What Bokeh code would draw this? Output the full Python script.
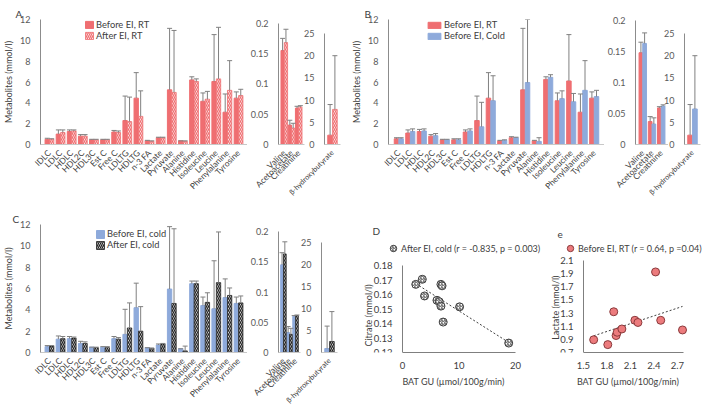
import math
import numpy as np
from bokeh.plotting import figure
from bokeh.models import (ColumnDataSource, FactorRange, Range1d, FixedTicker,
                          CustomJSTickFormatter, Legend, LegendItem, Label)
from bokeh.transform import dodge
from bokeh.layouts import row, column
from bokeh.embed import file_html
from bokeh.resources import INLINE

# ---------------- data ----------------
main_cats = ["IDLC", "LDLC", "HDLC", "HDL2C", "HDL3C", "Est C", "Free C", "LDLTG",
             "HDLTG", "n-3 FA", "Lactate", "Pyruvate", "Alanine", "Histidine",
             "Isoleucine", "Leucine", "Phenylalanine", "Tyrosine"]
small_cats = ["Valine", "Acetoacetate", "Creatinine"]
bhb_cats = ["β-hydroxybutyrate"]

main_ticks = [0, 2, 4, 6, 8, 10, 12]
small_ticks = [0, 0.05, 0.1, 0.15, 0.2]
bhb_ticks = [0, 5, 10, 15, 20, 25]

# Panel A: before EI RT vs after EI RT  (mean, mean+SD)
a_before_rt = [0.5, 1.0, 1.25, 0.8, 0.45, 0.45, 1.2, 2.3, 4.45, 0.35, 0.65, 5.25, 0.35, 6.2, 4.15, 6.05, 3.1, 4.45]
a_before_rt_err = [0.6, 1.4, 1.4, 0.95, 0.5, 0.5, 1.35, 4.65, 6.9, 0.4, 0.7, 11.15, 0.35, 6.5, 4.95, 10.55, 4.85, 5.05]
a_after_rt = [0.5, 1.15, 1.3, 0.8, 0.45, 0.45, 1.15, 2.2, 2.7, 0.3, 0.65, 5.0, 0.3, 6.05, 4.35, 6.3, 5.2, 4.7]
a_after_rt_err = [0.55, 1.4, 1.4, 0.95, 0.5, 0.5, 1.3, 4.55, 5.15, 0.35, 0.7, 10.95, 0.35, 6.3, 5.1, 11.25, 8.05, 5.3]
a_small_before = [0.155, 0.032, 0.06]
a_small_before_err = [0.175, 0.04, 0.063]
a_small_after = [0.168, 0.027, 0.062]
a_small_after_err = [0.19, 0.035, 0.064]
a_bhb_before = [2.1]
a_bhb_before_err = [9.0]
a_bhb_after = [7.9]
a_bhb_after_err = [20.0]

# Panel B: before EI RT vs before EI cold
b_before_rt = [0.55, 1.1, 1.25, 0.8, 0.45, 0.45, 1.2, 2.3, 4.45, 0.35, 0.65, 5.25, 0.35, 6.25, 4.2, 6.1, 3.1, 4.45]
b_before_rt_err = [0.65, 1.4, 1.45, 0.95, 0.5, 0.55, 1.4, 4.65, 6.9, 0.4, 0.75, 11.15, 0.4, 6.5, 4.95, 10.55, 4.85, 5.05]
b_before_cold = [0.55, 1.25, 1.3, 0.85, 0.45, 0.45, 1.3, 1.7, 4.2, 0.4, 0.65, 5.95, 0.3, 6.45, 4.4, 4.1, 5.2, 4.6]
b_before_cold_err = [0.65, 1.5, 1.5, 1.05, 0.5, 0.55, 1.5, 4.05, 6.6, 0.45, 0.7, 12.0, 0.65, 6.7, 5.15, 4.9, 8.05, 5.2]
b_small_rt = [0.148, 0.037, 0.059]
b_small_rt_err = [0.165, 0.045, 0.061]
b_small_cold = [0.163, 0.033, 0.062]
b_small_cold_err = [0.18, 0.043, 0.064]
b_bhb_rt = [2.1]
b_bhb_rt_err = [9.0]
b_bhb_cold = [8.0]
b_bhb_cold_err = [20.0]

# Panel C: before EI cold vs after EI cold
c_before_cold = [0.55, 1.25, 1.3, 0.85, 0.5, 0.5, 1.3, 1.7, 4.2, 0.45, 0.7, 5.95, 0.35, 6.45, 4.4, 4.1, 5.15, 4.6]
c_before_cold_err = [0.65, 1.55, 1.5, 1.05, 0.5, 0.55, 1.5, 4.05, 6.5, 0.45, 0.8, 11.8, 0.35, 6.7, 5.2, 8.6, 6.9, 5.2]
c_after_cold = [0.6, 1.3, 1.35, 0.85, 0.45, 0.45, 1.25, 2.3, 2.0, 0.4, 0.8, 4.6, 0.15, 6.45, 4.7, 6.55, 5.35, 4.65]
c_after_cold_err = [0.65, 1.5, 1.45, 1.0, 0.5, 0.55, 1.4, 4.65, 4.3, 0.4, 0.85, 11.6, 0.6, 6.7, 5.6, 11.3, 6.05, 5.3]
c_small_before = [0.145, 0.033, 0.06]
c_small_before_err = [0.165, 0.043, 0.061]
c_small_after = [0.163, 0.03, 0.061]
c_small_after_err = [0.183, 0.04, 0.062]
c_bhb_before = [0.9]
c_bhb_before_err = [6.0]
c_bhb_after = [2.5]
c_bhb_after_err = [9.3]

# Panel D: BAT GU vs citrate, after EI cold
d_bat_gu = [2.35, 3.5, 3.9, 6.1, 6.5, 6.8, 7.0, 6.8, 7.2, 10.1, 18.8]
d_citrate = [0.167, 0.1705, 0.159, 0.156, 0.155, 0.167, 0.166, 0.152, 0.141, 0.1515, 0.1265]
d_ticks_x = [0, 10, 20]
d_ticks_y = [0.12, 0.13, 0.14, 0.15, 0.16, 0.17, 0.18]

# Panel e: BAT GU vs lactate, before EI RT
e_bat_gu = [1.63, 1.81, 1.886, 1.916, 1.93, 1.99, 2.156, 2.195, 2.42, 2.486, 2.764]
e_lactate = [0.894, 0.82, 1.32, 0.958, 1.008, 1.058, 1.19, 1.157, 1.926, 1.19, 1.043]
e_ticks_x = [1.5, 1.8, 2.1, 2.4, 2.7]
e_ticks_y = [0.7, 0.9, 1.1, 1.3, 1.5, 1.7, 1.9, 2.1]

# ---------------- style ----------------
FONT = "Lato"
TXT = "#404040"
TICK = "#595959"
ERR = "#808080"
RED = "#ef6e71"
BLUE = "#8eaadb"

sty_red = dict(fill_color=RED, line_color=RED)
sty_blue = dict(fill_color=BLUE, line_color=BLUE)
sty_red_hatch = dict(fill_color="white", line_color=RED, line_width=0.8, hatch_pattern="\\",
                     hatch_color=RED, hatch_scale=4, hatch_weight=1.3)
sty_black_hatch = dict(fill_color="white", line_color="#222222", line_width=0.8, hatch_pattern="\\",
                       hatch_color="#222222", hatch_scale=4, hatch_weight=1.3)

num_fmt = CustomJSTickFormatter(code="return String(Math.round(tick*1000)/1000);")

ROW1 = dict(bt=19, fh=125, bb=61)   # frame 19..144
ROW2 = dict(bt=19, fh=128, bb=60)   # frame 224..352 (row starts at 205)


def base_fig(x_range, y_range, fw, bl, br, rowg, margin=None, title=None, title_off=0):
    kw = dict(x_range=x_range, y_range=y_range, width=bl + fw + br,
              height=rowg["bt"] + rowg["fh"] + rowg["bb"],
              min_border_left=bl, min_border_top=rowg["bt"], min_border_bottom=rowg["bb"],
              min_border_right=br, output_backend="svg", toolbar_location=None, tools="")
    if margin is not None:
        kw["margin"] = margin
    kw["title"] = title
    p = figure(**kw)
    if title is not None:
        p.title.align = "left"
        p.title.offset = title_off
        p.title.standoff = 0
        p.title.text_font = FONT
        p.title.text_font_size = "10px"
        p.title.text_font_style = "normal"
        p.title.text_color = TXT
    p.background_fill_color = None
    p.border_fill_color = None
    p.outline_line_color = None
    p.grid.visible = False
    return p


def style_axes(p, tick_color, tick_size, label_size, axis_color):
    for ax in p.axis:
        ax.major_tick_line_color = None
        ax.minor_tick_line_color = None
        ax.major_label_text_font = FONT
        ax.major_label_text_font_size = tick_size
        ax.major_label_text_color = tick_color
        ax.axis_label_text_font = FONT
        ax.axis_label_text_font_size = label_size
        ax.axis_label_text_font_style = "normal"
        ax.axis_label_text_color = TXT
        ax.axis_line_color = axis_color


def bar_panel(cats, a, ae, b, be, ymax, ytop, ticks, sty_a, sty_b, fw, bl, br, rowg, pad, off, w,
              ylabel=None, fmt=None, margin=None, title=None, title_off=0, cat_font="8.4px"):
    src = ColumnDataSource(dict(cat=cats, a=a, ae=ae, b=b, be=be))
    p = base_fig(FactorRange(factors=cats, range_padding=pad), Range1d(0, ytop),
                 fw, bl, br, rowg, margin, title, title_off)
    xa = dodge("cat", -off, range=p.x_range)
    xb = dodge("cat", off, range=p.x_range)
    ra = p.vbar(x=xa, top="a", width=w, source=src, **sty_a)
    rb = p.vbar(x=xb, top="b", width=w, source=src, **sty_b)
    for xx, v, e in ((xa, "a", "ae"), (xb, "b", "be")):
        p.segment(x0=xx, y0=v, x1=xx, y1=e, source=src, line_color=ERR, line_width=1)
        p.scatter(x=xx, y=e, marker="dash", size=5, source=src, line_color=ERR, line_width=1)
    style_axes(p, TICK, "9px", "9px", "#8c8c8c")
    p.yaxis.ticker = FixedTicker(ticks=ticks)
    p.yaxis.bounds = (0, ymax)
    if fmt is not None:
        p.yaxis.formatter = fmt
    p.xaxis.major_label_orientation = math.pi / 4
    p.xaxis.axis_line_color = "#c8c8c8"
    p.xaxis.major_label_standoff = 1
    p.xaxis.major_label_text_color = TXT
    p.xaxis.major_label_text_font_size = cat_font
    p.yaxis.major_label_standoff = 4
    if ylabel:
        p.yaxis.axis_label = ylabel
        p.yaxis.axis_label_standoff = 3
    return p, ra, rb


def bar_legend(p, items, loc, gw, gh):
    lg = Legend(items=items, location=loc, orientation="vertical", padding=0, margin=0,
                spacing=0, glyph_width=gw, glyph_height=gh, label_height=11,
                label_standoff=2, label_text_font=FONT, label_text_font_size="9.3px",
                label_text_color=TXT, background_fill_alpha=0, border_line_color=None,
                label_text_baseline="middle")
    p.add_layout(lg)


BHB_FONT = "7.3px"

# ---------------- row 1: A and B ----------------
pA1, rA1, rA2 = bar_panel(main_cats, a_before_rt, a_before_rt_err, a_after_rt, a_after_rt_err,
                          12, 12, main_ticks, sty_red, sty_red_hatch, 214, 33, 0, ROW1,
                          0.034, 0.2, 0.39, ylabel="Metabolites (mmol/l)", title="A", title_off=-25)
bar_legend(pA1, [LegendItem(label="Before EI, RT", renderers=[rA1]),
                 LegendItem(label="After EI, RT", renderers=[rA2])], (44, 103), 10, 9)

pA2, _, _ = bar_panel(small_cats, a_small_before, a_small_before_err, a_small_after,
                      a_small_after_err, 0.2, 0.2061, small_ticks, sty_red, sty_red_hatch,
                      29, 28, 3, ROW1, 0.2, 0.23, 0.45, fmt=num_fmt)
pA3, _, _ = bar_panel(bhb_cats, a_bhb_before, a_bhb_before_err, a_bhb_after, a_bhb_after_err,
                      25, 28.15, bhb_ticks, sty_red, sty_red_hatch, 16, 54, 3, ROW1,
                      0.0, 0.15, 0.29, margin=(0, 0, 0, -37), cat_font=BHB_FONT)

pB1, rB1, rB2 = bar_panel(main_cats, b_before_rt, b_before_rt_err, b_before_cold, b_before_cold_err,
                          12, 12, main_ticks, sty_red, sty_blue, 216, 45, 0, ROW1,
                          0.044, 0.2, 0.39, ylabel="Metabolites (mmol/l)", title="B", title_off=-24)
bar_legend(pB1, [LegendItem(label="Before EI, RT", renderers=[rB1]),
                 LegendItem(label="Before EI, Cold", renderers=[rB2])], (38, 103), 16, 8)

pB2, _, _ = bar_panel(small_cats, b_small_rt, b_small_rt_err, b_small_cold, b_small_cold_err,
                      0.2, 0.2016, small_ticks, sty_red, sty_blue, 37, 27, 0, ROW1,
                      0.19, 0.2, 0.4, fmt=num_fmt)
pB3, _, _ = bar_panel(bhb_cats, b_bhb_rt, b_bhb_rt_err, b_bhb_cold, b_bhb_cold_err,
                      25, 28.15, bhb_ticks, sty_red, sty_blue, 16, 52, 5, ROW1,
                      0.0, 0.15, 0.29, margin=(0, 0, 0, -36), cat_font=BHB_FONT)

# ---------------- row 2: C, D, e ----------------
pC1, rC1, rC2 = bar_panel(main_cats, c_before_cold, c_before_cold_err, c_after_cold, c_after_cold_err,
                          12, 12, main_ticks, sty_blue, sty_black_hatch, 214, 33, 0, ROW2,
                          0.034, 0.2, 0.39, ylabel="Metabolites (mmol/l)", title="C", title_off=-28)
bar_legend(pC1, [LegendItem(label="Before EI, cold", renderers=[rC1]),
                 LegendItem(label="After EI, cold", renderers=[rC2])], (55, 102), 10, 10)

pC2, _, _ = bar_panel(small_cats, c_small_before, c_small_before_err, c_small_after,
                      c_small_after_err, 0.2, 0.2116, small_ticks, sty_blue, sty_black_hatch,
                      27, 26, 4, ROW2, 0.21, 0.23, 0.45, fmt=num_fmt)
pC3, _, _ = bar_panel(bhb_cats, c_bhb_before, c_bhb_before_err, c_bhb_after, c_bhb_after_err,
                      25, 29.09, bhb_ticks, sty_blue, sty_black_hatch, 16, 53, 3, ROW2,
                      0.0, 0.15, 0.29, margin=(0, 0, 0, -36), cat_font=BHB_FONT)


def scatter_panel(xv, yv, xr, yr, xb, yb, yaxis_at, xt, yt, fw, bl, br, margin, sty, xlabel, ylabel,
                  ylabel_pos, legend_text, leg_loc, letter, letter_pos):
    src = ColumnDataSource(dict(x=xv, y=yv))
    p = base_fig(Range1d(*xr), Range1d(*yr), fw, bl, br, ROW2, margin=margin)
    slope, icpt = np.polyfit(xv, yv, 1)
    xs = [min(xv), max(xv)]
    p.line(xs, [slope * x + icpt for x in xs], line_color="#404040", line_dash="2 2", line_width=1)
    r = p.scatter(x="x", y="y", source=src, marker="circle", size=8, **sty)
    style_axes(p, TXT, "9.5px", "9px", "#7f7f7f")
    p.xaxis.ticker = FixedTicker(ticks=xt)
    p.yaxis.ticker = FixedTicker(ticks=yt)
    p.xaxis.bounds = xb
    p.yaxis.bounds = yb
    p.yaxis.fixed_location = yaxis_at
    p.xaxis.formatter = num_fmt
    p.yaxis.formatter = num_fmt
    p.xaxis.axis_label = xlabel
    p.xaxis.major_label_standoff = 3
    p.yaxis.major_label_standoff = 4
    p.xaxis.axis_label_standoff = 4
    p.add_layout(Label(x=ylabel_pos[0], y=ylabel_pos[1], x_units="screen", y_units="screen",
                       text=ylabel, angle=math.pi / 2, text_align="center",
                       text_baseline="middle", text_font=FONT, text_font_size="9px",
                       text_color=TXT))
    lg = Legend(items=[LegendItem(label=legend_text, renderers=[r])], location=leg_loc,
                padding=0, margin=0, spacing=0, glyph_width=16, glyph_height=16,
                label_height=12, label_standoff=0, label_text_font=FONT,
                label_text_font_size="9px", label_text_color=TXT,
                background_fill_alpha=0, border_line_color=None)
    p.add_layout(lg)
    p.add_layout(Label(x=letter_pos[0], y=letter_pos[1], x_units="screen", y_units="screen",
                       text=letter, text_font=FONT, text_font_size="10px", text_color=TXT))
    return p


# D: canvas 320..548, frame 358..548; x 0 -> 402px, 20 -> 515px
pD = scatter_panel(d_bat_gu, d_citrate, (-7.788, 25.84), (0.12, 0.2083), (0, 20), (0.12, 0.18), 0,
                   d_ticks_x, d_ticks_y, 190, 38, 0, (0, 0, 0, -20),
                   dict(fill_color="white", line_color="#404040", line_width=1,
                        hatch_pattern="/", hatch_color="#404040", hatch_scale=3, hatch_weight=0.9),
                   "BAT GU (µmol/100g/min)", "Citrate (mmol/l)", (10, 37),
                   "After EI, cold (r = -0.835, p = 0.003)", (27, 96), "D", (14, 116))

# e: canvas 511..709, frame 546..709; x 1.5 -> 583px, 2.7 -> 677px
pE = scatter_panel(e_bat_gu, e_lactate, (1.0276, 3.1086), (0.7, 2.648), (1.5, 2.78), (0.7, 2.1), 1.5,
                   e_ticks_x, e_ticks_y, 163, 35, 0, (0, 0, 0, -37),
                   dict(fill_color="#ec7b7d", line_color="#8a3a3c", line_width=1),
                   "BAT GU (µmol/100g/min)", "Lactate  (mmol/l)", (9, 46),
                   "Before EI, RT (r = 0.64, p =0.04)", (16, 96), "e", (11, 115))

layout = column(row(pA1, pA2, pA3, pB1, pB2, pB3, spacing=0),
                row(pC1, pC2, pC3, pD, pE, spacing=0), spacing=0)

with open("out.html", "w") as f:
    f.write(file_html(layout, INLINE))
